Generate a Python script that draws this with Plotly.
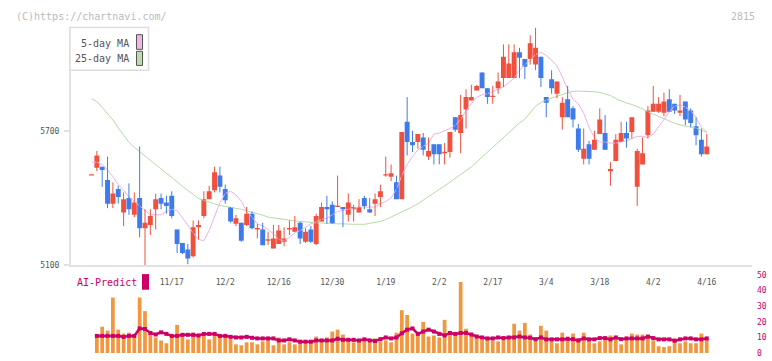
import plotly.graph_objects as go

W, H = 772, 361

# ---------------- data ----------------
date_labels = ["11/17", "12/2", "12/16", "12/30", "1/19", "2/2", "2/17", "3/4", "3/18", "4/2", "4/16"]
label_index = [15, 25, 35, 45, 55, 65, 75, 85, 95, 105, 115]

open_ = [5500, 5535, 5540, 5480, 5375, 5440, 5335, 5400, 5325, 5400,
         5265, 5280, 5350, 5400, 5380, 5410, 5260, 5200, 5170, 5140,
         5270, 5320, 5395, 5435, 5500, 5440, 5360, 5285, 5290, 5280,
         5330, 5260, 5260, 5210, 5175, 5195, 5205, 5260, 5250, 5290,
         5205, 5260, 5195, 5295, 5360, 5370, 5360, 5360, 5325, 5350,
         5335, 5400, 5350, 5375, 5405, 5500, 5495, 5470, 5395, 5740,
         5650, 5650, 5670, 5585, 5640, 5640, 5600, 5605, 5760, 5690,
         5795, 5835, 5880, 5960, 5890, 5850, 5890, 5935, 5935, 5935,
         6050, 6020, 6020, 5995, 6030, 5850, 5930, 5865, 5760, 5840,
         5800, 5710, 5575, 5640, 5615, 5685, 5690, 5520, 5565, 5650,
         5690, 5695, 5450, 5550, 5680, 5785, 5785, 5780, 5840, 5820,
         5780, 5830, 5790, 5720, 5660, 5595]
high = [5500, 5610, 5540, 5585, 5470, 5455, 5425, 5465, 5425, 5630,
        5350, 5350, 5420, 5420, 5410, 5430, 5260, 5200, 5195, 5300,
        5300, 5430, 5455, 5540, 5540, 5460, 5360, 5325, 5290, 5360,
        5340, 5285, 5290, 5250, 5280, 5280, 5270, 5300, 5320, 5295,
        5265, 5275, 5330, 5380, 5410, 5385, 5500, 5360, 5420, 5370,
        5395, 5410, 5400, 5420, 5460, 5585, 5550, 5500, 5695, 5850,
        5700, 5685, 5690, 5670, 5640, 5640, 5645, 5695, 5760, 5860,
        5885, 5905, 5905, 5960, 5890, 5900, 5960, 6085, 6085, 6085,
        6070, 6020, 6125, 6160, 6030, 5850, 5970, 5920, 5850, 5900,
        5810, 5730, 5710, 5655, 5700, 5800, 5770, 5560, 5685, 5740,
        5740, 5760, 5620, 5670, 5810, 5900, 5850, 5870, 5885, 5820,
        5860, 5830, 5800, 5760, 5710, 5685]
low = [5500, 5520, 5450, 5355, 5355, 5375, 5275, 5325, 5315, 5225,
       5100, 5235, 5260, 5350, 5330, 5310, 5155, 5150, 5105, 5135,
       5215, 5310, 5395, 5425, 5425, 5375, 5290, 5275, 5205, 5275,
       5260, 5220, 5190, 5190, 5175, 5195, 5185, 5235, 5250, 5195,
       5200, 5200, 5190, 5295, 5285, 5285, 5360, 5270, 5295, 5295,
       5335, 5350, 5335, 5320, 5360, 5495, 5475, 5395, 5395, 5590,
       5605, 5620, 5590, 5570, 5550, 5550, 5550, 5580, 5695, 5600,
       5710, 5835, 5880, 5890, 5820, 5820, 5865, 5895, 5935, 5935,
       5935, 5930, 5995, 5970, 5895, 5760, 5865, 5845, 5705, 5760,
       5715, 5605, 5550, 5550, 5615, 5685, 5615, 5455, 5565, 5650,
       5625, 5665, 5365, 5550, 5665, 5785, 5780, 5765, 5785, 5775,
       5765, 5725, 5715, 5635, 5585, 5595]
close = [5500, 5590, 5525, 5375, 5420, 5405, 5395, 5350, 5380, 5265,
         5290, 5320, 5395, 5375, 5365, 5320, 5195, 5155, 5130, 5270,
         5280, 5395, 5430, 5515, 5450, 5390, 5295, 5310, 5210, 5330,
         5265, 5260, 5190, 5210, 5220, 5255, 5220, 5260, 5270, 5220,
         5250, 5205, 5320, 5360, 5350, 5285, 5360, 5350, 5380, 5360,
         5360, 5365, 5335, 5395, 5430, 5500, 5510, 5395, 5695, 5650,
         5635, 5685, 5615, 5610, 5595, 5595, 5600, 5695, 5705, 5770,
         5850, 5850, 5900, 5890, 5850, 5850, 5920, 6030, 6000, 6050,
         6025, 5985, 6090, 6070, 5935, 5825, 5890, 5920, 5825, 5760,
         5750, 5615, 5620, 5575, 5660, 5750, 5615, 5530, 5660, 5690,
         5665, 5760, 5610, 5600, 5790, 5820, 5820, 5830, 5785, 5790,
         5790, 5750, 5735, 5680, 5595, 5630]

ma5 = [5560, 5560, 5550, 5525, 5495, 5460, 5435, 5405, 5385, 5365,
       5345, 5325, 5325, 5325, 5340, 5350, 5345, 5310, 5280, 5245,
       5215, 5210, 5255, 5320, 5380, 5420, 5430, 5415, 5385, 5340,
       5315, 5285, 5275, 5260, 5240, 5215, 5210, 5225, 5245, 5255,
       5270, 5285, 5295, 5305, 5310, 5325, 5340, 5345, 5350, 5355,
       5360, 5360, 5360, 5360, 5375, 5385, 5400, 5440, 5500, 5550,
       5585, 5615, 5630, 5645, 5685, 5690, 5700, 5710, 5725, 5750,
       5790, 5820, 5850, 5860, 5865, 5875, 5885, 5895, 5915, 5935,
       5970, 5995, 6015, 6040, 6050, 6035, 6015, 5990, 5940, 5885,
       5840, 5820, 5780, 5715, 5670, 5650, 5650, 5645, 5645, 5650,
       5655, 5665, 5675, 5675, 5670, 5685, 5715, 5750, 5785, 5810,
       5815, 5805, 5790, 5760, 5715, 5695]
ma25 = [5843, 5830, 5804, 5778, 5748, 5713, 5678, 5648, 5626, 5607,
        5589, 5570, 5552, 5530, 5513, 5491, 5472, 5452, 5433, 5415,
        5398, 5389, 5380, 5374, 5367, 5363, 5359, 5354, 5350, 5343,
        5337, 5330, 5324, 5315, 5311, 5307, 5304, 5300, 5298, 5296,
        5293, 5291, 5289, 5289, 5287, 5287, 5285, 5285, 5283, 5283,
        5283, 5283, 5287, 5291, 5296, 5304, 5315, 5326, 5337, 5348,
        5361, 5374, 5391, 5409, 5422, 5439, 5454, 5470, 5487, 5504,
        5522, 5539, 5561, 5583, 5604, 5624, 5648, 5670, 5693, 5715,
        5735, 5752, 5778, 5809, 5826, 5837, 5846, 5854, 5861, 5870,
        5876, 5877, 5877, 5876, 5874, 5871, 5865, 5857, 5843, 5833,
        5824, 5817, 5809, 5798, 5785, 5774, 5763, 5752, 5741, 5733,
        5726, 5722, 5717, 5712, 5702, 5693]

volume = [0, 11.9, 16.9, 14.4, 35.6, 15.0, 12.5, 13.1, 10.8, 35.6,
          26.9, 11.9, 10.0, 8.1, 6.3, 10.6, 18.1, 11.3, 8.8, 13.1,
          10.6, 11.3, 8.8, 11.3, 11.3, 10.0, 9.4, 5.6, 5.0, 6.9,
          6.9, 5.6, 7.5, 8.8, 5.0, 10.0, 5.6, 6.9, 5.6, 6.9,
          6.3, 6.9, 10.6, 8.1, 10.0, 13.8, 15.0, 11.9, 9.4, 6.9,
          8.1, 8.1, 7.5, 9.4, 7.5, 8.1, 6.9, 13.1, 27.5, 24.4,
          12.5, 11.3, 20.0, 10.6, 11.3, 10.0, 21.3, 11.9, 11.3, 45.6,
          15.6, 11.3, 10.0, 8.8, 10.0, 8.1, 7.5, 8.8, 10.6, 18.8,
          14.4, 19.4, 11.9, 8.8, 17.5, 14.4, 8.1, 6.3, 13.1, 8.8,
          12.5, 9.4, 13.1, 8.1, 6.3, 7.5, 8.8, 11.3, 9.4, 5.6,
          8.8, 12.5, 11.9, 11.9, 10.6, 8.1, 4.4, 3.8, 4.4, 9.4,
          6.3, 7.5, 6.3, 6.3, 12.5, 8.8]
ai_predict = [None, 11.0, 11.0, 11.0, 11.0, 11.0, 10.4, 11.0, 11.0, 15.8,
              15.4, 12.9, 11.9, 13.3, 12.3, 11.0, 11.0, 11.7, 11.7, 11.7,
              11.3, 12.3, 12.3, 12.3, 11.0, 11.0, 10.4, 10.0, 10.0, 10.4,
              9.8, 9.4, 9.4, 9.4, 9.4, 8.1, 8.1, 8.8, 8.1, 7.3,
              7.3, 7.3, 8.1, 8.1, 8.1, 8.1, 9.2, 8.5, 8.5, 8.5,
              8.1, 8.8, 8.1, 7.7, 8.9, 10.0, 9.4, 10.0, 12.7, 15.0,
              15.8, 12.3, 13.8, 15.0, 13.8, 12.3, 11.3, 12.9, 12.3, 12.9,
              12.9, 11.9, 10.6, 10.0, 9.4, 9.4, 10.0, 9.6, 10.0, 10.0,
              10.6, 10.0, 9.8, 8.9, 10.0, 8.8, 8.8, 8.8, 8.8, 9.2,
              8.9, 8.1, 9.4, 8.8, 8.8, 9.6, 9.6, 8.8, 10.0, 8.9,
              9.4, 9.4, 9.4, 9.4, 10.6, 9.6, 8.8, 8.8, 8.8, 7.9,
              8.8, 9.4, 9.4, 8.8, 8.8, 9.4]

price_ticks = [5100, 5700]
sub_ticks = [0, 10, 20, 30, 40, 50]

# ---------------- styling ----------------
UP = "#F0513E"
DOWN = "#3F7BEA"
MA5_C = "#E9B3E6"
MA25_C = "#B5DAA6"
VOL_C = "#F0973F"
AI_C = "#CC0066"
FONT = "DejaVu Sans Mono"


def px_x(p):
    return p / W


def px_y(p):
    return 1 - p / H


idx = list(range(len(close)))

fig = go.Figure()

# moving averages
fig.add_trace(go.Scatter(x=idx, y=ma25, mode="lines", line=dict(color=MA25_C, width=1),
                         xaxis="x", yaxis="y", hoverinfo="skip"))
fig.add_trace(go.Scatter(x=idx, y=ma5, mode="lines", line=dict(color=MA5_C, width=1),
                         xaxis="x", yaxis="y", hoverinfo="skip"))

# candle wicks
for up in (True, False):
    wx, wy = [], []
    for i in idx:
        if (close[i] >= open_[i]) == up:
            wx += [i, i, None]
            wy += [low[i], high[i], None]
    fig.add_trace(go.Scatter(x=wx, y=wy, mode="lines",
                             line=dict(color=UP if up else DOWN, width=1),
                             xaxis="x", yaxis="y", hoverinfo="skip"))

# candle bodies
base = [min(o, c) for o, c in zip(open_, close)]
body = [max(abs(c - o), 6) for o, c in zip(open_, close)]
colors = [UP if c >= o else DOWN for o, c in zip(open_, close)]
fig.add_trace(go.Bar(x=idx, y=body, base=base, width=0.92,
                     marker=dict(color=colors, line=dict(width=0)),
                     xaxis="x", yaxis="y", hoverinfo="skip"))

# volume bars + AI predict
fig.add_trace(go.Bar(x=idx, y=volume, width=0.7,
                     marker=dict(color=VOL_C, line=dict(width=0)),
                     xaxis="x2", yaxis="y2", hoverinfo="skip"))
fig.add_trace(go.Scatter(x=idx, y=ai_predict, mode="lines+markers",
                         line=dict(color=AI_C, width=2.5),
                         marker=dict(color=AI_C, size=4, symbol="square"),
                         xaxis="x2", yaxis="y2", hoverinfo="skip"))

xr = [(71 - 91.5) / 5.35, (752 - 91.5) / 5.35]
xdom = [px_x(71), px_x(752)]
ytop = 5700 + (130 - 24) * (600 / 138)

axis_font = dict(family=FONT, size=8, color="#555")

fig.update_layout(
    width=W, height=H,
    margin=dict(l=0, r=0, t=0, b=0),
    paper_bgcolor="white", plot_bgcolor="white",
    showlegend=False, barmode="overlay", hovermode=False,
    font=dict(family=FONT),
    xaxis=dict(domain=xdom, range=xr, anchor="y",
               tickmode="array", tickvals=label_index, ticktext=date_labels,
               ticks="", showgrid=False, zeroline=False,
               showline=True, linecolor="#e2e2e2", linewidth=2,
               tickfont=axis_font, ticklabelstandoff=8),
    xaxis3=dict(overlaying="x", anchor="y", range=[0, 11], domain=xdom,
                tickmode="linear", tick0=0, dtick=1, ticks="inside", ticklen=5,
                tickcolor="#e2e2e2", tickwidth=2, showticklabels=False,
                showgrid=False, zeroline=False, showline=False),
    yaxis=dict(domain=[px_y(268), px_y(24)], range=[5100, ytop], anchor="x",
               tickmode="array", tickvals=price_ticks,
               ticktext=[str(v) for v in price_ticks],
               ticks="outside", ticklen=5, tickcolor="#e2e2e2", tickwidth=2,
               showgrid=False, zeroline=False,
               showline=True, linecolor="#e2e2e2", linewidth=2,
               tickfont=axis_font, ticklabelstandoff=3),
    xaxis2=dict(domain=xdom, range=xr, anchor="y2", showticklabels=False,
                ticks="", showgrid=False, zeroline=False, showline=False),
    yaxis2=dict(domain=[px_y(358), px_y(278)], range=[0, 50], anchor="x2",
                side="right", tickmode="array", tickvals=sub_ticks,
                ticks="", showgrid=False, zeroline=False, showline=False,
                tickfont=dict(family=FONT, size=8, color=AI_C),
                ticklabelstandoff=4),
)

# texts
fig.add_annotation(x=px_x(14), y=px_y(12.5), xref="paper", yref="paper",
                   text="(C)https://chartnavi.com/", showarrow=False,
                   xanchor="left", yanchor="middle",
                   font=dict(family=FONT, size=10, color="#bbbbbb"))
fig.add_annotation(x=px_x(757), y=px_y(12.5), xref="paper", yref="paper",
                   text="2815", showarrow=False, xanchor="right", yanchor="middle",
                   font=dict(family=FONT, size=10, color="#bbbbbb"))

# legend box
fig.add_shape(type="rect", xref="paper", yref="paper",
              x0=px_x(70), x1=px_x(148.5), y0=px_y(68), y1=px_y(24),
              line=dict(color="#dddddd", width=1.5), fillcolor="white", layer="above")
fig.add_annotation(x=px_x(131), y=px_y(40.5), xref="paper", yref="paper",
                   text="5-day MA", showarrow=False, xanchor="right", yanchor="middle",
                   font=dict(family=FONT, size=10, color="#555"))
fig.add_annotation(x=px_x(131), y=px_y(56), xref="paper", yref="paper",
                   text="25-day MA", showarrow=False, xanchor="right", yanchor="middle",
                   font=dict(family=FONT, size=10, color="#555"))
fig.add_shape(type="rect", xref="paper", yref="paper",
              x0=px_x(136.5), x1=px_x(142.5), y0=px_y(46.5), y1=px_y(31.5),
              line=dict(color="#555", width=1), fillcolor="#EDB6EA", layer="above")
fig.add_shape(type="rect", xref="paper", yref="paper",
              x0=px_x(136.5), x1=px_x(142.5), y0=px_y(63), y1=px_y(48.5),
              line=dict(color="#555", width=1), fillcolor="#BADDAA", layer="above")

# AI-Predict label
fig.add_annotation(x=px_x(75), y=px_y(286), xref="paper", yref="paper",
                   text="AI-Predict", showarrow=False, xanchor="left", yanchor="middle",
                   font=dict(family=FONT, size=10, color=AI_C))
fig.add_shape(type="rect", xref="paper", yref="paper",
              x0=px_x(142), x1=px_x(149), y0=px_y(293), y1=px_y(277),
              line=dict(width=0), fillcolor=AI_C, layer="above")

# remove the default page margin so the 772x361 figure fills the window exactly
fig.write_html("out.html",
               config={"displayModeBar": False, "staticPlot": True},
               post_script="document.body.style.margin='0';document.body.style.overflow='hidden';")
